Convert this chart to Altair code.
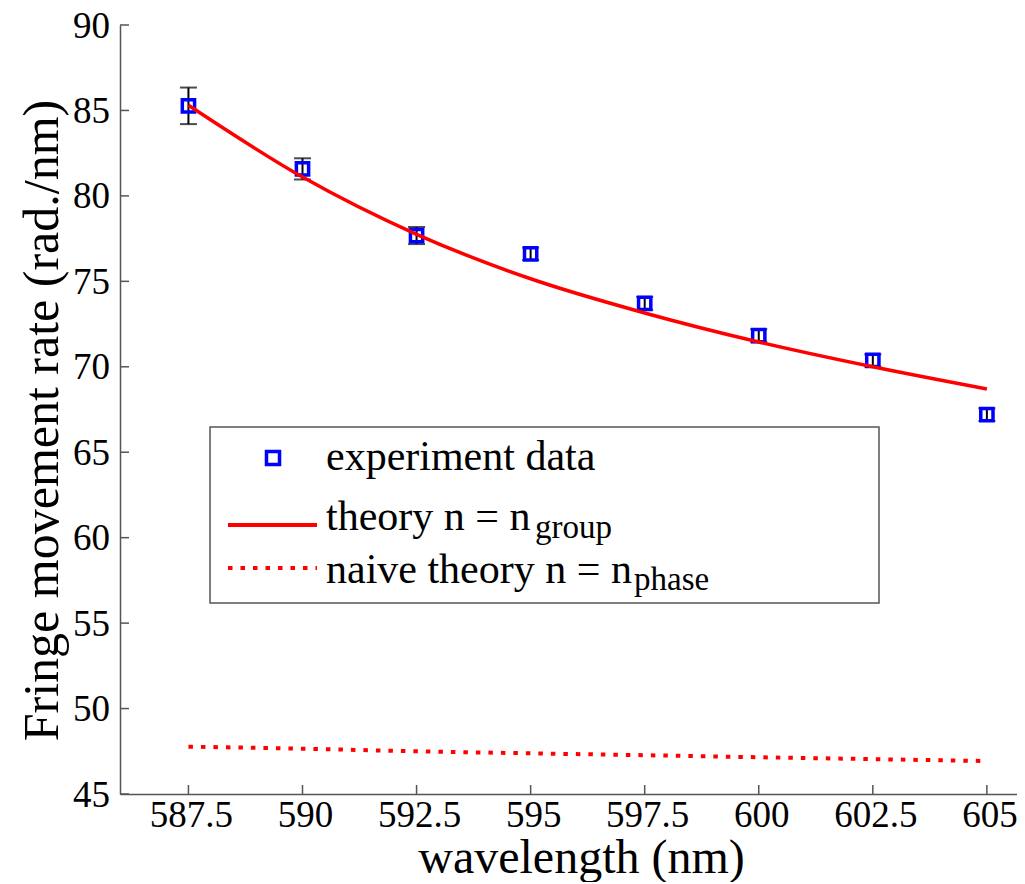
import altair as alt
import pandas as pd

# ---- data ----
wavelength = [587.5, 590.0, 592.5, 595.0, 597.5, 600.0, 602.5, 605.0]
measured = [85.27, 81.58, 77.68, 76.61, 73.71, 71.82, 70.37, 67.20]
meas_err = [1.07, 0.62, 0.50, 0.36, 0.38, 0.38, 0.36, 0.37]
theory_group = [85.30, 81.10, 77.75, 75.15, 73.15, 71.45, 70.00, 68.70]
theory_phase = [47.77, 47.65, 47.50, 47.38, 47.27, 47.15, 47.04, 46.93]

x_ticks = [587.5, 590, 592.5, 595, 597.5, 600, 602.5, 605]
x_tick_labels = ["587.5", "590", "592.5", "595", "597.5", "600", "602.5", "605"]
y_ticks = [45, 50, 55, 60, 65, 70, 75, 80, 85, 90]
y_tick_labels = ["45", "50", "55", "60", "65", "70", "75", "80", "85", "90"]

W, H = 897, 769
FONT = "Liberation Serif"
AX = "#555555"

df = pd.DataFrame({
    "wl": wavelength,
    "rate": measured,
    "lo": [m - e for m, e in zip(measured, meas_err)],
    "hi": [m + e for m, e in zip(measured, meas_err)],
    "group": theory_group,
    "phase": theory_phase,
})

xs = alt.Scale(domain=[586.0, 605.66], nice=False, zero=False)
ys = alt.Scale(domain=[45, 90], nice=False, zero=False)

x_axis = alt.Axis(
    values=x_ticks, labels=False, title="wavelength (nm)",
    titleX=461, titleY=78, titleBaseline="alphabetic", titleAlign="center",
    titleFont=FONT, titleFontSize=48, titleFontWeight="normal", titleColor="black",
    grid=False, ticks=False, tickSize=0, domainColor=AX, domainWidth=1.5,
)
y_axis = alt.Axis(
    values=y_ticks, labels=False, title="Fringe movement rate (rad./nm)",
    titleX=-63, titleY=395, titleAngle=-90, titleBaseline="alphabetic",
    titleAlign="center",
    titleFont=FONT, titleFontSize=50, titleFontWeight="normal", titleColor="black",
    grid=False, ticks=False, tickSize=0, domainColor=AX, domainWidth=1.5,
)

base = alt.Chart(df)

err = base.mark_rule(color="black", strokeWidth=2).encode(
    x=alt.X("wl:Q", scale=xs, axis=x_axis),
    y=alt.Y("lo:Q", scale=ys, axis=y_axis),
    y2="hi:Q",
)
cap_lo = base.mark_tick(color="black", orient="horizontal", size=17, thickness=2).encode(
    x=alt.X("wl:Q", scale=xs), y=alt.Y("lo:Q", scale=ys))
cap_hi = base.mark_tick(color="black", orient="horizontal", size=17, thickness=2).encode(
    x=alt.X("wl:Q", scale=xs), y=alt.Y("hi:Q", scale=ys))

pts = base.mark_point(shape="square", filled=False, size=150, strokeWidth=3.5,
                      color="#0000ff", opacity=1).encode(
    x=alt.X("wl:Q", scale=xs), y=alt.Y("rate:Q", scale=ys))

line_g = base.mark_line(color="#ff0000", strokeWidth=3.5, interpolate="monotone").encode(
    x=alt.X("wl:Q", scale=xs), y=alt.Y("group:Q", scale=ys))
line_p = base.mark_line(color="#ff0000", strokeWidth=4, strokeDash=[4.5, 8],
                        interpolate="monotone").encode(
    x=alt.X("wl:Q", scale=xs), y=alt.Y("phase:Q", scale=ys))

# inward ticks and tick labels
xdf = pd.DataFrame({"t": x_ticks, "lab": x_tick_labels})
ydf = pd.DataFrame({"t": y_ticks, "lab": y_tick_labels})
xt = alt.Chart(xdf).mark_rule(color=AX, strokeWidth=1.5).encode(
    x=alt.X("t:Q", scale=xs), y=alt.value(H), y2=alt.value(H - 9))
yt = alt.Chart(ydf).mark_rule(color=AX, strokeWidth=1.5).encode(
    y=alt.Y("t:Q", scale=ys), x=alt.value(0), x2=alt.value(9))
xl = alt.Chart(xdf).mark_text(font=FONT, fontSize=37, color="black", align="center",
                              baseline="alphabetic", dx=3).encode(
    x=alt.X("t:Q", scale=xs), y=alt.value(H + 33), text="lab:N")
yl = alt.Chart(ydf).mark_text(font=FONT, fontSize=37, color="black", align="right",
                              baseline="alphabetic", dy=12.5).encode(
    y=alt.Y("t:Q", scale=ys), x=alt.value(-10), text="lab:N")

# custom legend (needs subscripts)
leg_box = alt.Chart(pd.DataFrame({"a": [0]})).mark_rect(
    fill="white", stroke=AX, strokeWidth=1.5).encode(
    x=alt.value(90), x2=alt.value(759), y=alt.value(402), y2=alt.value(578))
leg_pt = alt.Chart(pd.DataFrame({"a": [0]})).mark_point(
    shape="square", filled=False, size=170, strokeWidth=3.5, color="#0000ff", opacity=1).encode(
    x=alt.value(153), y=alt.value(433))
leg_l1 = alt.Chart(pd.DataFrame({"a": [0]})).mark_rule(color="#ff0000", strokeWidth=4).encode(
    x=alt.value(108), x2=alt.value(197), y=alt.value(500))
leg_l2 = alt.Chart(pd.DataFrame({"a": [0]})).mark_rule(
    color="#ff0000", strokeWidth=4, strokeDash=[4.5, 8]).encode(
    x=alt.value(108), x2=alt.value(197), y=alt.value(543))


def txt(s, x, y, size):
    return alt.Chart(pd.DataFrame({"a": [0]})).mark_text(
        text=s, font=FONT, fontSize=size, align="left", baseline="alphabetic",
        color="black").encode(x=alt.value(x), y=alt.value(y))


leg_texts = [
    txt("experiment data", 206, 445, 42),
    txt("theory n = n", 206, 505, 42),
    txt("group", 415, 513, 33),
    txt("naive theory n = n", 206, 558, 42),
    txt("phase", 514, 565, 33),
]

chart = alt.layer(
    err, cap_lo, cap_hi, pts, line_g, line_p, xt, yt, xl, yl,
    leg_box, leg_pt, leg_l1, leg_l2, *leg_texts
).properties(
    width=W, height=H,
    autosize=alt.AutoSizeParams(type="none"),
    padding={"left": 112, "top": 17, "right": 0, "bottom": 88},
).configure_view(stroke=None)

chart.save("out.html", embed_options={"renderer": "svg", "actions": False})
